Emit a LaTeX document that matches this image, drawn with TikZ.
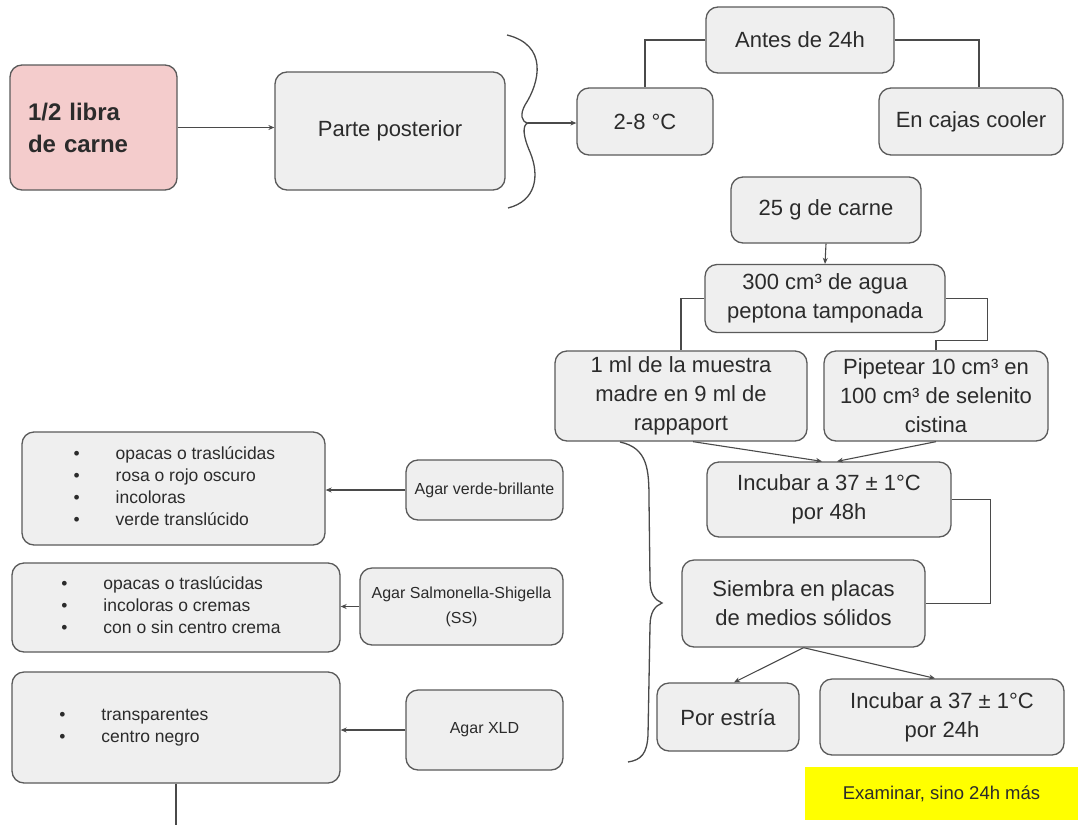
\documentclass[tikz,border=0pt]{standalone}
\usepackage{fontspec}
\setmainfont{Liberation Sans}
\usetikzlibrary{arrows.meta,calc}
\definecolor{boxfill}{HTML}{EFEFEF}
\definecolor{boxline}{HTML}{5A5A5A}
\definecolor{linec}{HTML}{4A4A4A}
\definecolor{txt}{HTML}{2B2B2B}
\definecolor{pinkc}{HTML}{F4CCCC}
\definecolor{yel}{HTML}{FFFF00}
\tikzset{
  box/.style={draw=boxline, line width=1.3pt, fill=boxfill, rounded corners=12pt,
    align=center, inner sep=0pt, text=txt, font=\fontsize{22}{29}\selectfont},
  agar/.style={box, font=\fontsize{16}{25}\selectfont},
  bul/.style={box, font=\fontsize{17.5}{22}\selectfont},
  note/.style={fill=yel, inner sep=0pt, text=txt, font=\fontsize{18.5}{22}\selectfont,
    minimum width=273, minimum height=53},
  conn/.style={draw=linec, line width=1.1pt},
  arr/.style={conn, -{Stealth[length=6pt,width=5pt]}},
  brace/.style={draw=linec, line width=1.3pt},
}
\newcommand{\bl}{\makebox[42pt][l]{\textbullet}}
\begin{document}
\begin{tikzpicture}[x=1pt,y=-1pt]
\useasboundingbox (0,0) rectangle (1078,825);
\fill[white] (0,0) rectangle (1078,825);

% top row
\node[box, fill=pinkc, minimum width=167, minimum height=125, text width=131, inner xsep=18,
  align=left, font=\bfseries\fontsize{24}{32}\selectfont] (libra) at (93.5,127.5) {1/2 libra\\de carne};
\node[box, minimum width=230, minimum height=118] (parte) at (390,131) {Parte posterior};
\node[box, minimum width=136, minimum height=67] (b28) at (645,121.5) {2-8 °C};
\node[box, minimum width=188, minimum height=66] (antes) at (800,40) {Antes de 24h};
\node[box, minimum width=184, minimum height=67] (cooler) at (971,121.5) {En cajas cooler};

% right column
\node[box, minimum width=190, minimum height=66] (carne) at (826,210) {25 g de carne};
\node[box, minimum width=240, minimum height=68] (agua) at (825,298.5) {300 cm³ de agua\\peptona tamponada};
\node[box, minimum width=252, minimum height=90] (muestra) at (681,396) {1 ml de la muestra\\madre en 9 ml de\\rappaport};
\node[box, minimum width=224, minimum height=90] (pip) at (936,396) {Pipetear 10 cm³ en\\100 cm³ de selenito\\cistina};
\node[box, minimum width=244, minimum height=75] (inc48) at (829,499.5) {Incubar a 37 ± 1°C\\por 48h};
\node[box, minimum width=243, minimum height=87] (siembra) at (803.5,603.5) {Siembra en placas\\de medios sólidos};
\node[box, minimum width=142, minimum height=68] (estria) at (728,717) {Por estría};
\node[box, minimum width=244, minimum height=76] (inc24) at (942,717) {Incubar a 37 ± 1°C\\por 24h};
\node[note] (exam) at (941.5,793.5) {Examinar, sino 24h más};

% left column
\node[bul, minimum width=303, minimum height=113] (bul1) at (173.5,488.5)
  {\begin{tabular}{@{\hspace{2pt}}l@{}}\bl opacas o traslúcidas\\ \bl rosa o rojo oscuro\\ \bl incoloras\\ \bl verde translúcido\end{tabular}};
\node[agar, minimum width=157, minimum height=60] (verde) at (484.5,490) {Agar verde-brillante};
\node[bul, minimum width=328, minimum height=89] (bul2) at (176,607.5)
  {\begin{tabular}{@{}l@{\hspace{10pt}}}\bl opacas o traslúcidas\\ \bl incoloras o cremas\\ \bl con o sin centro crema\end{tabular}};
\node[agar, minimum width=203, minimum height=77] (ss) at (461.5,606.5) {Agar Salmonella-Shigella\\(SS)};
\node[bul, minimum width=328, minimum height=111] (bul3) at (176,727.5)
  {\begin{tabular}{@{}l@{\hspace{84pt}}}\bl transparentes\\ \bl centro negro\end{tabular}};
\node[agar, minimum width=157, minimum height=80] (xld) at (484.5,730) {Agar XLD};
\coordinate (bottom) at (176,825);

% braces
\coordinate (tip1) at (528,123);
\draw[brace] (507,35) .. controls (548,45) and (540,82) .. (525,105)
  .. controls (520,114) and (521,122) .. (tip1)
  .. controls (522,125) and (523,136) .. (530,152)
  .. controls (540,176) and (536,201) .. (508,208);
\draw[brace] (620,442) .. controls (648,448) and (649,470) .. (649,500)
  -- (650,580) .. controls (650,594) and (655,600) .. (662,603)
  .. controls (655,606) and (650,612) .. (650,626)
  -- (648,735) .. controls (647,754) and (641,760) .. (628,762);

% connectors
\draw[arr] (libra.east) -- (libra.east -| parte.west);
\draw[arr] (tip1) -- (tip1 -| b28.west);
\draw[conn] (antes.west) -| (b28.north);
\draw[conn] (antes.east) -| ([xshift=8pt]cooler.north);
\draw[arr] (carne.south) -- (agua.north);
\draw[conn] (agua.west) -| (muestra.north);
\draw[conn] (agua.east) -- ++(42,0) -- ++(0,42) -| (pip.north);
\draw[arr] ([xshift=12pt]muestra.south) -- ([xshift=-7pt]inc48.north);
\draw[arr] (pip.south) -- ([xshift=8pt]inc48.north);
\draw[conn] (inc48.east) -- ++(39,0) |- (siembra.east);
\draw[arr] (siembra.south) -- ([xshift=6pt]estria.north);
\draw[arr] (siembra.south) -- ([xshift=-7pt]inc24.north);
\draw[arr] (verde.west) -- (verde.west -| bul1.east);
\draw[arr] (ss.west) -- (ss.west -| bul2.east);
\draw[arr] (xld.west) -- (xld.west -| bul3.east);
\draw[conn] (bul3.south) -- (bottom);
\end{tikzpicture}
\end{document}
